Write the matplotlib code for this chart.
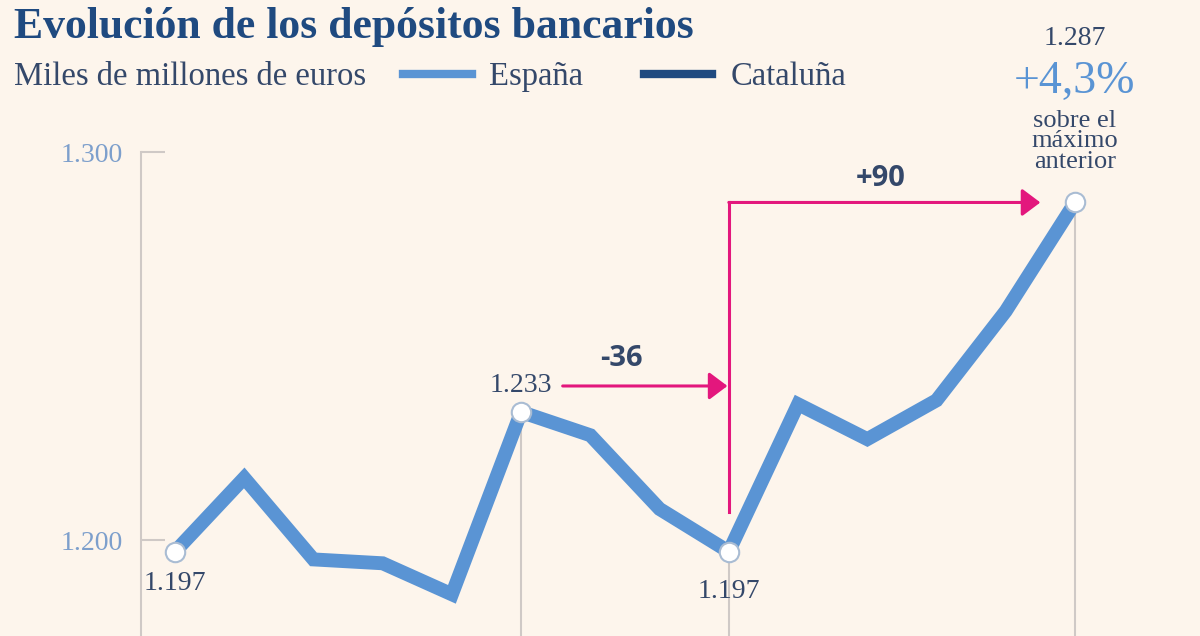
import numpy as np
import matplotlib.pyplot as plt
from matplotlib.lines import Line2D

# depósitos bancarios en España, miles de millones de euros
espana = [1197, 1216, 1195, 1194, 1186, 1233, 1227, 1208, 1197, 1235, 1226, 1236, 1259, 1287]
ticks = [1200, 1300]
tick_labels = ['1.200', '1.300']
series_names = ['España', 'Cataluña']
pct_label = '+4,3%'

bg = '#fdf5ec'
c_esp = '#5a94d4'
c_cat = '#1f4a80'
c_text = '#34486a'
c_tick = '#7d9fcc'
c_arrow = '#e3177d'
c_grid = '#cfc9c6'
serif = 'Liberation Serif'

def fmt(v):
    return '{:,}'.format(v).replace(',', '.')

x = np.arange(len(espana))
i_max1 = int(np.argmax(espana[:8]))
i_min = 8
i_last = len(espana) - 1

fig = plt.figure(figsize=(12, 6.36), dpi=100, facecolor=bg)
ax = fig.add_axes([141 / 1200, 0, 1 - 141 / 1200, 1 - 140 / 636])
ax.set_facecolor(bg)
ax.set_xlim(-0.491, 14.806)
ax.set_ylim(1175.26, 1303.1)

for s in ['top', 'right', 'bottom']:
    ax.spines[s].set_visible(False)
ax.spines['left'].set_color(c_grid)
ax.spines['left'].set_linewidth(1.5)
ax.spines['left'].set_bounds(1175.26, 1300)
ax.set_xticks([])
ax.set_yticks(ticks)
ax.set_yticklabels(tick_labels, fontsize=20, color=c_tick, family=serif)
ax.tick_params(axis='y', direction='in', length=17, width=1.5, color=c_grid, pad=13)

# lineas verticales de referencia
for i in [i_max1, i_min, i_last]:
    ax.vlines(i, 1175.26, espana[i], color=c_grid, lw=1.5, zorder=1)

ax.plot(x, espana, color=c_esp, lw=10, solid_joinstyle='miter', zorder=3)
ax.plot([0, i_max1, i_min, i_last], [espana[0], espana[i_max1], espana[i_min], espana[i_last]],
        ls='none', marker='o', ms=14, mfc='white', mec='#a9bcd3', mew=1.5, zorder=4)

# etiquetas de valores
lab = dict(fontsize=20, color=c_text, family=serif, ha='center', va='center', textcoords='offset points')
ax.annotate(fmt(espana[0]), (0, espana[0]), xytext=(0, -23), **lab)
ax.annotate(fmt(espana[i_min]), (i_min, espana[i_min]), xytext=(0, -29), **lab)
ax.annotate(fmt(espana[i_max1]), (i_max1, espana[i_max1]), xytext=(0, 19), **lab)

# flechas de variación
arr_y = espana[i_max1] + 6.7
astyle = dict(arrowstyle='-|>,head_length=0.8,head_width=0.6', mutation_scale=14,
              color=c_arrow, lw=2.2, shrinkA=0, shrinkB=0)
ax.annotate('', xy=(i_min - 0.02, arr_y), xytext=(i_max1 + 0.6, arr_y), arrowprops=astyle)
ax.plot([i_min, i_min], [1207.2, espana[i_last]], color=c_arrow, lw=2.2,
        solid_capstyle='projecting', zorder=2)
ax.annotate('', xy=(i_last - 0.5, espana[i_last]), xytext=(i_min, espana[i_last]), arrowprops=astyle)
ax.text(6.45, arr_y + 7, '{:+d}'.format(espana[i_min] - espana[i_max1]),
        fontsize=21, fontweight='bold', family='Open Sans', color=c_text, ha='center', va='center')
ax.text(10.2, espana[i_last] + 6.2, '+{}'.format(espana[i_last] - espana[i_min]),
        fontsize=21, fontweight='bold', family='Open Sans', color=c_text, ha='center', va='center')

# anotación del máximo
top = (i_last, espana[i_last])
ax.annotate(fmt(espana[i_last]), top, xytext=(0, 118), fontsize=20, color=c_text,
            family=serif, ha='center', va='center', textcoords='offset points', annotation_clip=False)
ax.annotate(pct_label, top, xytext=(0, 87), fontsize=33,
            color=c_esp, family=serif, ha='center', va='center', textcoords='offset points',
            annotation_clip=False)
ax.annotate('sobre el\nmáximo\nanterior', top, xytext=(0, 44), fontsize=19, color=c_text,
            family=serif, ha='center', va='center', linespacing=0.9, textcoords='offset points',
            annotation_clip=False)

# titulo, subtitulo y leyenda
fig.text(14 / 1200, 1 - 27 / 636, 'Evolución de los depósitos bancarios', fontsize=31.5,
         fontweight='bold', family=serif, color=c_cat, ha='left', va='center')
fig.text(14 / 1200, 1 - 77 / 636, 'Miles de millones de euros', fontsize=23.5,
         family=serif, color=c_text, ha='left', va='center')
handles = [Line2D([], [], color=c_esp, lw=6), Line2D([], [], color=c_cat, lw=6)]
leg = fig.legend(handles, series_names, loc='center left', bbox_to_anchor=(403 / 1200, 1 - 77 / 636),
                 ncol=2, frameon=False, borderpad=0, borderaxespad=0, handlelength=2.1,
                 handletextpad=0.55, columnspacing=1.85,
                 prop={'family': serif, 'size': 23.5})
for t in leg.get_texts():
    t.set_color(c_text)

fig.savefig('out.png', dpi=100, facecolor=bg)
